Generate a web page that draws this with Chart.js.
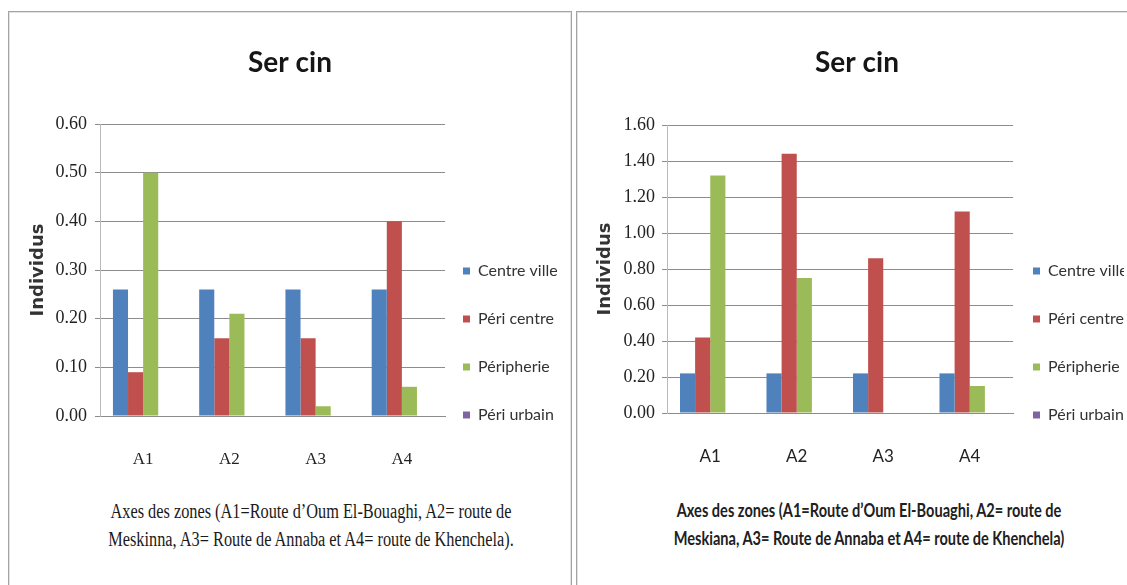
<!DOCTYPE html>
<html lang="fr">
<head>
<meta charset="utf-8">
<title>Ser cin</title>
<script src="https://cdn.jsdelivr.net/npm/chart.js@4.4.1/dist/chart.umd.min.js"></script>
<style>
  html, body { margin: 0; padding: 0; background: #fff; width: 1127px; height: 585px; overflow: hidden; position: relative; }
  .panel { position: absolute; top: 11px; height: 600px; border: 1px solid #a4a4a4; border-bottom: none; box-shadow: inset 0 0 0 1px #e2e2e2; }
  #panelLeft { left: 8px; width: 562px; }
  #panelRight { left: 576px; width: 570px; }
  canvas { position: absolute; }
  #chartLeft { left: 9px; top: 13px; }
  #chartRight { left: 578px; top: 13px; }
  .caption { position: absolute; text-align: center; white-space: nowrap; color: #1a1a1a; }
  #captionLeft { left: 311px; top: 497px; font: 20px/28px "Liberation Serif", "Times New Roman", serif; transform: translateX(-50%) scaleX(0.815); }
  #captionRight { left: 869px; top: 496px; font: bold 18px/28px Lato, "Open Sans", sans-serif; color: #202020; transform: translateX(-50%) scaleX(0.81); }
</style>
</head>
<body>
<div class="panel" id="panelLeft"></div>
<div class="panel" id="panelRight"></div>
<canvas id="chartLeft" width="562" height="470"></canvas>
<canvas id="chartRight" width="558" height="470"></canvas>
<div class="caption" id="captionLeft">Axes des zones (A1=Route d’Oum El-Bouaghi, A2= route de<br>Meskinna, A3= Route de Annaba et A4= route de Khenchela).</div>
<div class="caption" id="captionRight">Axes des zones (A1=Route d’Oum El-Bouaghi, A2= route de<br>Meskiana, A3= Route de Annaba et A4= route de Khenchela)</div>
<script>
// ---- data ----
const ZONES = ["A1", "A2", "A3", "A4"];
const SERIES = ["Centre ville", "Péri centre", "Péripherie", "Péri urbain"];

// left chart
const leftCentreVille = [0.26, 0.26, 0.26, 0.26];
const leftPeriCentre  = [0.09, 0.16, 0.16, 0.40];
const leftPeripherie  = [0.50, 0.21, 0.02, 0.06];
const leftPeriUrbain  = [0, 0, 0, 0];

// right chart
const rightCentreVille = [0.22, 0.22, 0.22, 0.22];
const rightPeriCentre  = [0.42, 1.44, 0.86, 1.12];
const rightPeripherie  = [1.32, 0.75, 0, 0.15];
const rightPeriUrbain  = [0, 0, 0, 0];

const COLORS = ["#4F81BD", "#C0504D", "#9BBB59", "#8064A2"];
const GRID = "#8c8c8c";

const SERIF = "'Liberation Serif', 'Times New Roman', serif";
const SANS = "Lato, 'Open Sans', sans-serif";

// fixed legend width, then shift the legend box left/up after layout
function legendBox(width, dx, dy) {
    return {
        id: "legendBox",
        beforeInit(chart) {
            const fit = chart.legend.fit;
            chart.legend.fit = function () {
                fit.call(this);
                this.width = width;
            };
        },
        afterLayout(chart) {
            const lg = chart.legend;
            lg.left -= dx;
            lg.right -= dx;
            lg.top -= dy;
            lg.bottom -= dy;
        }
    };
}

function buildChart(id, cfg) {
    return new Chart(document.getElementById(id), {
        type: "bar",
        data: {
            labels: ZONES,
            datasets: SERIES.map((name, i) => ({
                label: name,
                data: cfg.values[i],
                backgroundColor: COLORS[i],
                borderWidth: 0,
                categoryPercentage: 0.7,
                barPercentage: 1.0
            }))
        },
        options: {
            responsive: false,
            animation: false,
            layout: { padding: 0 },
            plugins: {
                title: {
                    display: true,
                    text: "Ser cin",
                    color: "#161616",
                    font: { family: SANS, size: 28, weight: "bold" },
                    padding: { top: 33, bottom: cfg.titleGap }
                },
                legend: {
                    position: "right",
                    align: "end",
                    labels: {
                        boxWidth: 7,
                        boxHeight: 7,
                        padding: 32,
                        color: "#333",
                        font: { family: SANS, size: 16 }
                    }
                },
                tooltip: { enabled: false }
            },
            scales: {
                x: {
                    grid: { display: false, drawTicks: false },
                    border: { display: true, color: GRID },
                    ticks: { padding: 33.8, color: "#222", font: { family: cfg.xFont, size: 17 } },
                    afterFit: s => { s.height = cfg.xHeight; }
                },
                y: {
                    min: 0,
                    max: cfg.max,
                    ticks: {
                        stepSize: cfg.step,
                        padding: cfg.yTickPad,
                        color: "#222",
                        font: { family: SERIF, size: 18 },
                        callback: v => v.toFixed(2)
                    },
                    grid: { color: GRID, tickLength: 5 },
                    border: { color: "#b9b9b9" },
                    title: {
                        display: true,
                        text: "Individus",
                        color: "#333",
                        font: { family: "'DejaVu Sans', sans-serif", size: 18, weight: "bold" },
                        padding: { top: cfg.yTitlePad, bottom: 0 }
                    },
                    afterFit: s => { s.width = cfg.yWidth; }
                }
            }
        },
        plugins: [legendBox(cfg.legendWidth, cfg.legendDx, 28)]
    });
}

buildChart("chartLeft", {
    values: [leftCentreVille, leftPeriCentre, leftPeripherie, leftPeriUrbain],
    max: 0.6, step: 0.1,
    yWidth: 91, yTickPad: 8, yTitlePad: 18.2,
    legendWidth: 126, legendDx: 14,
    titleGap: 111 - 33 - 33.6,
    xHeight: 67,
    xFont: SERIF
});

buildChart("chartRight", {
    values: [rightCentreVille, rightPeriCentre, rightPeripherie, rightPeriUrbain],
    max: 1.6, step: 0.2,
    yWidth: 89, yTickPad: 7, yTitlePad: 16.2,
    legendWidth: 123, legendDx: 12,
    titleGap: 112 - 33 - 33.6,
    xHeight: 70,
    xFont: SANS
});
</script>
</body>
</html>
